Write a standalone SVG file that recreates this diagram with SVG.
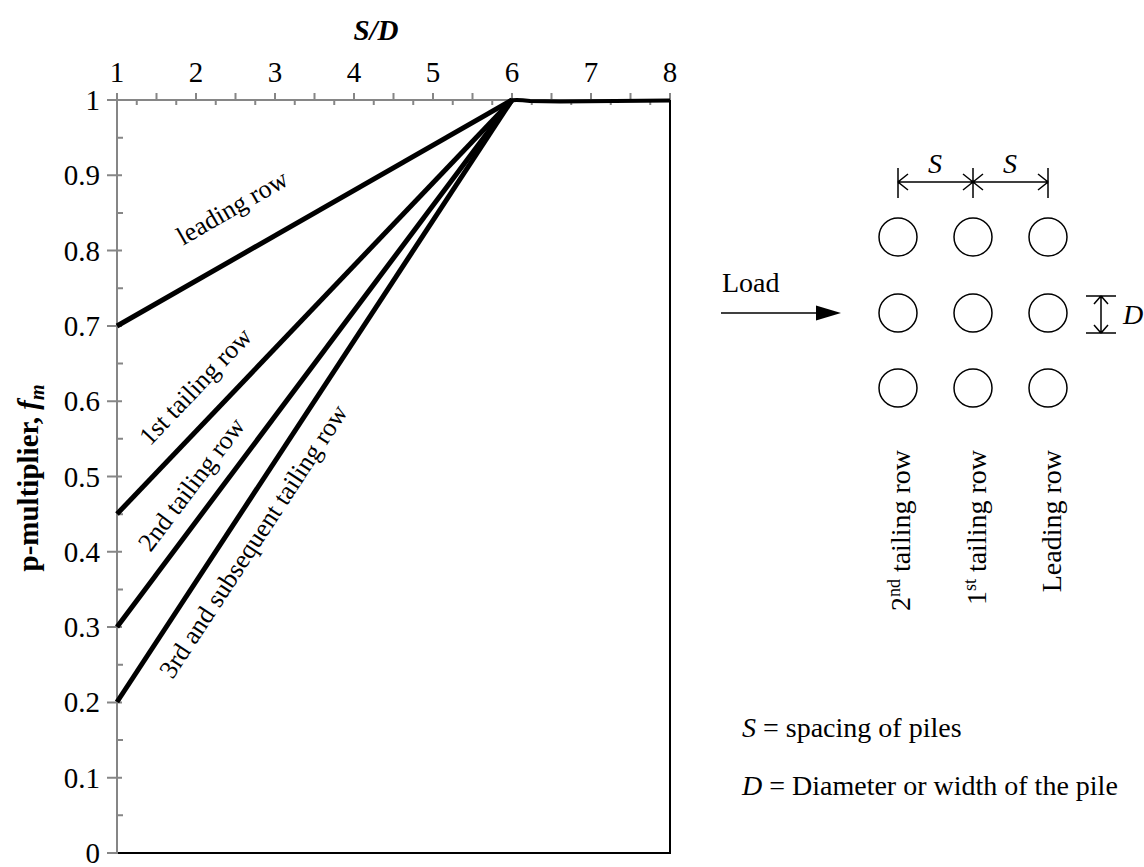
<svg xmlns="http://www.w3.org/2000/svg" width="1144" height="867" viewBox="0 0 1144 867">
<style>
text{font-family:"Liberation Serif","Times New Roman",serif;fill:#000}
.t28{font-size:28px}
.t29{font-size:29px}
.lab{font-size:26px}
.ax{stroke:#868686;stroke-width:2;fill:none}
.data{stroke:#000;stroke-width:5;fill:none;stroke-linejoin:round}
.thin{stroke:#000;stroke-width:1.5;fill:none}
</style>
<rect width="1144" height="867" fill="#fff"/>
<g id="chart">
<path class="ax" d="M117,100V853M116,100H670"/>
<path class="ax" d="M117,93V100M156.5,93V100M196,93V100M235.5,93V100M275,93V100M314.5,93V100M354,93V100M393.5,93V100M433,93V100M472.5,93V100M512,93V100M551.5,93V100M591,93V100M630.5,93V100M670,93V100"/>
<path class="ax" d="M136.75,100V105M176.25,100V105M215.75,100V105M255.25,100V105M294.75,100V105M334.25,100V105M373.75,100V105M413.25,100V105M452.75,100V105M492.25,100V105M531.75,100V105M571.25,100V105M610.75,100V105M650.25,100V105"/>
<path class="ax" d="M107,853H122M107,777.7H122M107,702.4H122M107,627.1H122M107,551.8H122M107,476.5H122M107,401.2H122M107,325.9H122M107,250.6H122M107,175.3H122M107,100H117"/>
<path class="ax" d="M117,815.35H123M117,740.05H123M117,664.75H123M117,589.45H123M117,514.15H123M117,438.85H123M117,363.55H123M117,288.25H123M117,212.95H123M117,137.65H123"/>
<path d="M118,853H670V100" stroke="#000" stroke-width="2" fill="none"/>
<g class="t29" text-anchor="middle">
<text x="117" y="82">1</text><text x="196" y="82">2</text><text x="275" y="82">3</text><text x="354" y="82">4</text><text x="433" y="82">5</text><text x="512" y="82">6</text><text x="591" y="82">7</text><text x="670" y="82">8</text>
</g>
<g class="t29" text-anchor="end">
<text x="100" y="863">0</text><text x="100" y="787.7">0.1</text><text x="100" y="712.4">0.2</text><text x="100" y="637.1">0.3</text><text x="100" y="561.8">0.4</text><text x="100" y="486.5">0.5</text><text x="100" y="411.2">0.6</text><text x="100" y="335.9">0.7</text><text x="100" y="260.6">0.8</text><text x="100" y="185.3">0.9</text><text x="100" y="110">1</text>
</g>
<text class="t29" x="376" y="40" text-anchor="middle" font-weight="bold" font-style="italic">S/D</text>
<text class="t29" transform="translate(38,478) rotate(-90)" text-anchor="middle" font-weight="bold">p-multiplier, <tspan font-style="italic">f</tspan><tspan font-style="italic" font-size="20" dy="6">m</tspan></text>
</g>
<g id="series">
<path class="data" d="M117,326L512,100"/>
<path class="data" d="M117,514L512,100"/>
<path class="data" d="M117,627L512,100"/>
<path class="data" d="M117,702L512,100"/>
<path d="M509,101Q514,99 530,101L560,101.5L670,100.5" stroke="#000" stroke-width="4" fill="none"/>
<g class="lab" text-anchor="middle">
<text transform="translate(232,207) rotate(-30)" dy="0.35em">leading row</text>
<text transform="translate(195,386) rotate(-46.5)" dy="0.35em">1st tailing row</text>
<text transform="translate(191,484) rotate(-53)" dy="0.35em">2nd tailing row</text>
<text transform="translate(253,541) rotate(-56.7)" dy="0.35em">3rd and subsequent tailing row</text>
</g>
</g>
<g id="pile-group">
<circle class="thin" cx="898" cy="237" r="19"/><circle class="thin" cx="973" cy="237" r="19"/><circle class="thin" cx="1048" cy="237" r="19"/>
<circle class="thin" cx="898" cy="313" r="19"/><circle class="thin" cx="973" cy="313" r="19"/><circle class="thin" cx="1048" cy="313" r="19"/>
<circle class="thin" cx="898" cy="388" r="19"/><circle class="thin" cx="973" cy="388" r="19"/><circle class="thin" cx="1048" cy="388" r="19"/>
</g>
<g id="spacing-dim">
<path class="thin" d="M898,182H1048M898,168V198M973,168V198M1048,168V198M908,174L898,182L908,190M963,174L983,190M963,190L983,174M1038,174L1048,182L1038,190"/>
<text class="t28" x="935" y="173" text-anchor="middle" font-style="italic">S</text>
<text class="t28" x="1010" y="173" text-anchor="middle" font-style="italic">S</text>
</g>
<g id="diameter-dim">
<path class="thin" d="M1086,296H1116M1086,333H1116M1101,296V333M1094,304L1101,296L1108,304M1094,325L1101,333L1108,325"/>
<text class="t28" x="1123" y="324" font-style="italic">D</text>
</g>
<g id="load">
<text class="t28" x="722" y="292">Load</text>
<path class="thin" d="M721,313H818"/>
<path d="M816,305.5L841,313L816,320.5Z" fill="#000"/>
</g>
<g id="row-labels" class="t28" text-anchor="end">
<text transform="translate(910,450) rotate(-90)">2<tspan font-size="18" dy="-10">nd</tspan><tspan dy="10"> tailing row</tspan></text>
<text transform="translate(986,450) rotate(-90)">1<tspan font-size="18" dy="-10">st</tspan><tspan dy="10"> tailing row</tspan></text>
<text transform="translate(1061,450) rotate(-90)">Leading row</text>
</g>
<g id="legend" class="t28">
<text x="742" y="737"><tspan font-style="italic">S</tspan> = spacing of piles</text>
<text x="742" y="795"><tspan font-style="italic">D</tspan> = Diameter or width of the pile</text>
</g>
</svg>
